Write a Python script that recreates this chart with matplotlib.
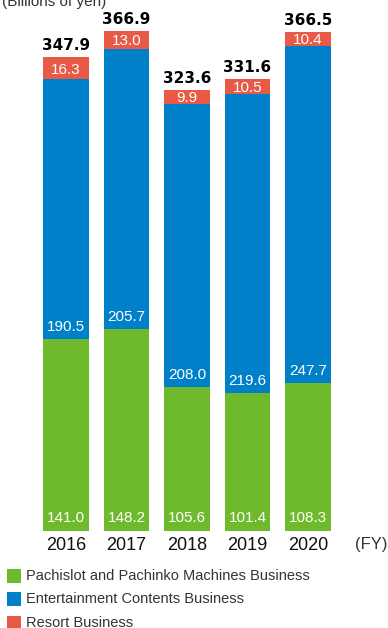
import matplotlib
matplotlib.use('Agg')
import matplotlib.pyplot as plt
from matplotlib.patches import Rectangle
import numpy as np

plt.rcParams['font.family'] = ['Liberation Sans', 'DejaVu Sans']

# Data
years = ['2016', '2017', '2018', '2019', '2020']
pachislot = [141.0, 148.2, 105.6, 101.4, 108.3]
entertainment = [190.5, 205.7, 208.0, 219.6, 247.7]
resort = [16.3, 13.0, 9.9, 10.5, 10.4]
totals = [347.9, 366.9, 323.6, 331.6, 366.5]
legend_labels = ['Pachislot and Pachinko Machines Business',
                 'Entertainment Contents Business',
                 'Resort Business']

green = '#6fba2c'
blue = '#0080c9'
red = '#e95a46'

W, H = 388, 628
fig = plt.figure(figsize=(W / 100, H / 100), dpi=100)
ax = fig.add_axes([0, 0, 1, 1])

# pixel mapping: baseline at y=531px, 1.362 px per unit, bar spacing 60.5px
scale = 1.362
base_px = 531
ax.set_ylim(-(H - base_px) / scale, base_px / scale)
x0, step = 66, 60.5
ax.set_xlim(-x0 / step, (W - x0) / step)
ax.axis('off')

x = np.arange(len(years))
width = 0.76
p = np.array(pachislot)
e = np.array(entertainment)
r = np.array(resort)

ax.bar(x, p, width, color=green)
ax.bar(x, e, width, bottom=p, color=blue)
ax.bar(x, r, width, bottom=p + e, color=red)

for i in range(len(years)):
    ax.text(x[i], 13 / scale, f'{pachislot[i]:.1f}', ha='center', va='center',
            color='white', fontsize=11)
    ax.text(x[i], p[i] + 12 / scale, f'{entertainment[i]:.1f}', ha='center', va='center',
            color='white', fontsize=11)
    ax.text(x[i], p[i] + e[i] + r[i] / 2 - 1, f'{resort[i]:.1f}', ha='center', va='center',
            color='white', fontsize=11)
    ax.text(x[i], totals[i] + 4 / scale, f'{totals[i]:.1f}', ha='center', va='bottom',
            color='black', fontsize=11, fontweight='bold', family='DejaVu Sans')
    ax.text(x[i], -14 / scale, years[i], ha='center', va='center',
            color='#111111', fontsize=13)

ax.text((371 - x0) / step, -14 / scale, '(FY)', ha='center', va='center',
        color='#333333', fontsize=12)

# unit label (cut off at top)
fig.text(2 / W, 1 - 2 / H, '(Billions of yen)', ha='left', va='center',
         color='#333333', fontsize=11)

# legend
colors = [green, blue, red]
rows = [576, 599, 623]
for c, lab, yy in zip(colors, legend_labels, rows):
    fig.add_artist(Rectangle((7 / W, 1 - (yy + 7) / H), 14 / W, 14 / H,
                             transform=fig.transFigure, color=c, lw=0))
    fig.text(26 / W, 1 - yy / H, lab, ha='left', va='center',
             color='#333333', fontsize=10.5)

fig.savefig('out.png', dpi=100)
